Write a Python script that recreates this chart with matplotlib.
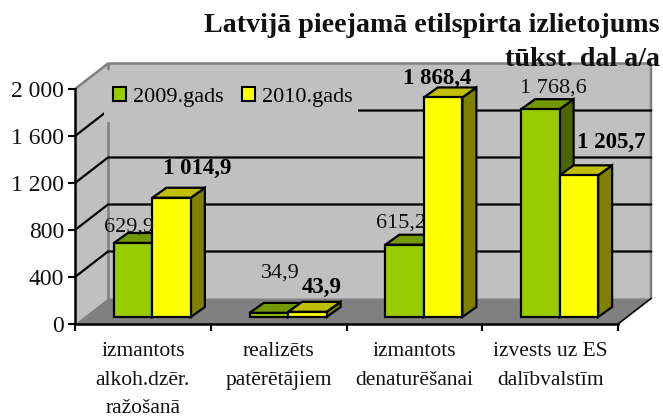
import matplotlib

matplotlib.use("Agg")

from matplotlib.patches import Patch, Polygon, Rectangle
import matplotlib.pyplot as plt

categories = [
    "izmantots\nalkoh.dzēr.\nražošanā",
    "realizēts\npatērētājiem",
    "izmantots\ndenaturēšanai",
    "izvests uz ES\ndalībvalstīm",
]
series_names = ["2009.gads", "2010.gads"]
values_2009 = [629.9, 34.9, 615.2, 1768.6]
values_2010 = [1014.9, 43.9, 1868.4, 1205.7]
labels_2009 = ["629,9", "34,9", "615,2", "1 768,6"]
labels_2010 = ["1 014,9", "43,9", "1 868,4", "1 205,7"]
y_ticks = [0, 400, 800, 1200, 1600, 2000]
y_tick_labels = ["0", "400", "800", "1 200", "1 600", "2 000"]

plt.rcParams["font.family"] = ["Liberation Serif", "DejaVu Serif"]

W, H = 663, 417
fig = plt.figure(figsize=(W / 100, H / 100), dpi=100, facecolor="white")
# front plane of the fake 3d box, in pixels from the top left
left, right, top, bottom = 75, 618, 89, 324
ax = fig.add_axes([left / W, 1 - bottom / H, (right - left) / W, (bottom - top) / H])
ax.set_xlim(0, 4)
ax.set_ylim(0, 2000)
ax.patch.set_visible(False)

px_x = 4 / (right - left)
px_y = 2000 / (bottom - top)

# box depth, bar depth and bar placement
box_dx, box_dy = 33 * px_x, 25.5 * px_y
bar_dx, bar_dy = 14 * px_x, 10 * px_y
off_dx, off_dy = 9.5 * px_x, 7 * px_y
bar_w = 38.5 * px_x


def poly(points, face, edge="none", lw=0, z=1):
    ax.add_patch(Polygon(points, closed=True, facecolor=face, edgecolor=edge,
                         linewidth=lw, zorder=z, clip_on=False, joinstyle="miter"))


# walls and floor
poly([(0, 0), (box_dx, box_dy), (box_dx, 2000 + box_dy), (0, 2000)], "#C0C0C0", z=1)
poly([(box_dx, box_dy), (4 + box_dx, box_dy), (4 + box_dx, 2000 + box_dy), (box_dx, 2000 + box_dy)],
     "#C0C0C0", z=1)
poly([(0, 0), (4, 0), (4 + box_dx, box_dy), (box_dx, box_dy)], "#808080", z=1)

wall = dict(color="#808080", lw=1.8, clip_on=False, zorder=1.5, solid_capstyle="butt")
ax.plot([0, box_dx, 4 + box_dx, 4 + box_dx], [2000, 2000 + box_dy, 2000 + box_dy, box_dy], **wall)
ax.plot([box_dx, box_dx], [box_dy, 2000 + box_dy], **wall)
ax.plot([4, 4 + box_dx], [0, box_dy], color="black", lw=1.2, clip_on=False, zorder=1.5)

# gridlines on both walls
for t in y_ticks[1:-1]:
    ax.plot([0, box_dx, 4 + box_dx], [t, t + box_dy, t + box_dy], color="black", lw=1.6,
            clip_on=False, zorder=2, solid_joinstyle="miter")


def bar(x0, value, front, top_c, side):
    x1 = x0 + bar_w
    y0 = off_dy
    y1 = value + off_dy
    poly([(x1, y0), (x1 + bar_dx, y0 + bar_dy), (x1 + bar_dx, y1 + bar_dy), (x1, y1)],
         side, "black", 1.6, 5)
    poly([(x0, y1), (x1, y1), (x1 + bar_dx, y1 + bar_dy), (x0 + bar_dx, y1 + bar_dy)],
         top_c, "black", 1.6, 5)
    poly([(x0, y0), (x1, y0), (x1, y1), (x0, y1)], front, "black", 1.6, 5)


for i in range(len(categories)):
    centre = i + 0.5 + off_dx
    bar(centre - bar_w, values_2009[i], "#99CC00", "#739900", "#4D6600")
    bar(centre, values_2010[i], "#FFFF00", "#BFBF00", "#808000")

# data labels were placed by hand in the original, offsets in pixels from the bar top
offsets_2009 = [(-4, 16), (11, 40), (-4, 22), (13, 21)]
offsets_2010 = [(26, 29), (14, 24), (-6, 19), (32, 33)]
for i in range(len(categories)):
    centre = i + 0.5 + off_dx
    ax.annotate(labels_2009[i], (centre - bar_w / 2, values_2009[i] + off_dy), fontsize=16,
                xytext=(offsets_2009[i][0] * 0.72, offsets_2009[i][1] * 0.72),
                textcoords="offset points", ha="center", va="center", zorder=6,
                annotation_clip=False, color="#111111")
    ax.annotate(labels_2010[i], (centre + bar_w / 2, values_2010[i] + off_dy), fontsize=16.5,
                xytext=(offsets_2010[i][0] * 0.72, offsets_2010[i][1] * 0.72),
                textcoords="offset points", ha="center", va="center", zorder=6,
                annotation_clip=False, fontweight="bold")

# axes
for s in ["top", "right"]:
    ax.spines[s].set_visible(False)
for s in ["left", "bottom"]:
    ax.spines[s].set_linewidth(1.8)
    ax.spines[s].set_zorder(4)
ax.set_yticks(y_ticks)
ax.set_yticklabels(y_tick_labels, fontsize=17, color="#111111")
ax.tick_params(axis="y", length=5, width=1.5, pad=3)
ax.set_xticks(range(5))
ax.set_xticklabels([])
ax.tick_params(axis="x", which="major", length=5, width=1.5)
ax.set_xticks([i + 0.5 for i in range(4)], minor=True)
ax.set_xticklabels(categories, minor=True, fontsize=15.5, linespacing=1.68, color="#111111")
ax.tick_params(axis="x", which="minor", length=0, pad=13)

# plain patch hides the top of the back wall grid behind the legend
ax.add_patch(Rectangle((104 / W, 1 - 122 / H), 254 / W, 52 / H, transform=fig.transFigure,
                       facecolor="#C0C0C0", edgecolor="none", zorder=2.5, clip_on=False))
handles = [
    Patch(facecolor="#99CC00", edgecolor="black", linewidth=1.5),
    Patch(facecolor="#FFFF00", edgecolor="black", linewidth=1.5),
]
leg = ax.legend(handles, series_names, ncol=2, loc="upper left",
                bbox_to_anchor=(113 / W, 1 - 87 / H), bbox_transform=fig.transFigure,
                fontsize=16, frameon=False, borderpad=0, borderaxespad=0,
                handlelength=0.59, handleheight=0.59, handletextpad=0.32, columnspacing=0.81)
leg.set_zorder(3)

fig.text(660 / W, 1 - 26 / H, "Latvijā pieejamā etilspirta izlietojums", ha="right", va="center",
         fontsize=20.2, fontweight="bold", color="#111111")
fig.text(660 / W, 1 - 60 / H, "tūkst. dal a/a", ha="right", va="center",
         fontsize=20.2, fontweight="bold", color="#111111")

fig.savefig("out.png", dpi=100)
